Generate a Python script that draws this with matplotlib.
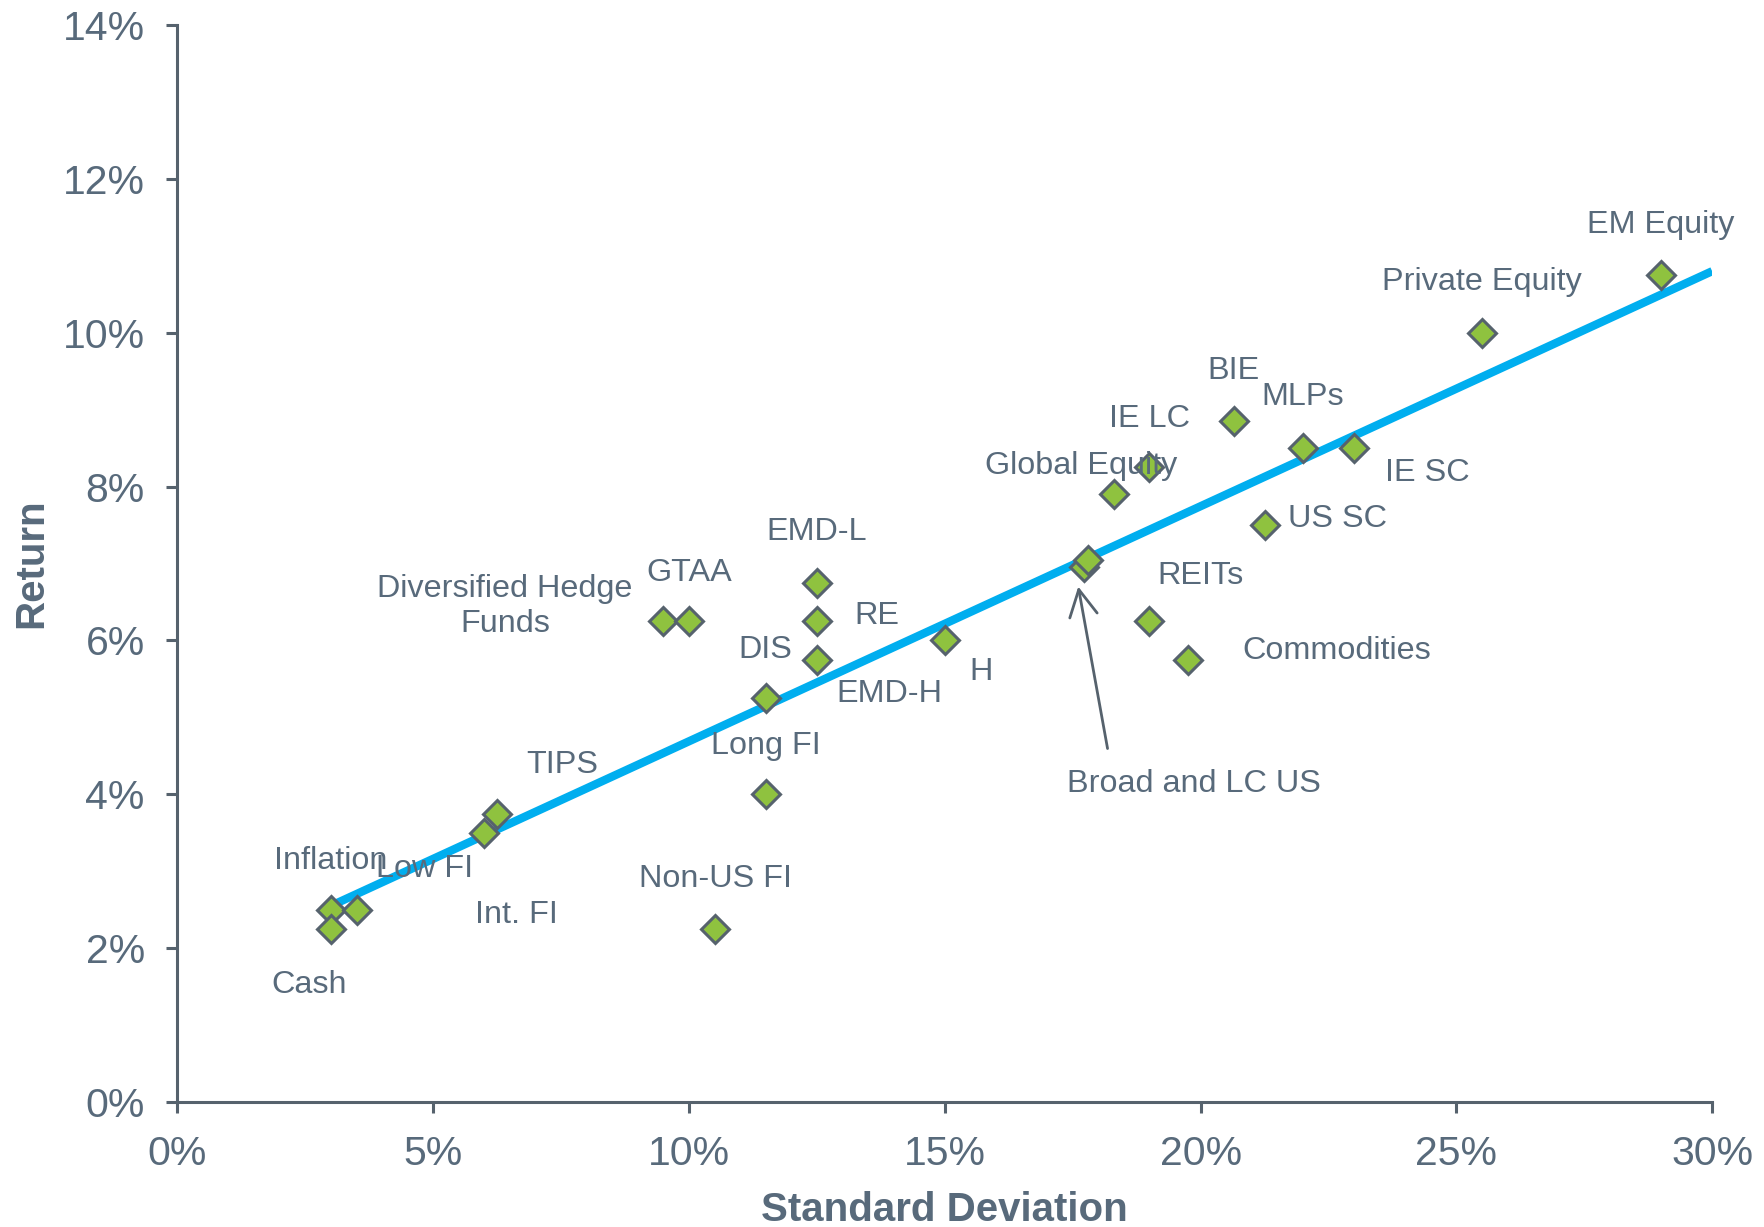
import matplotlib
matplotlib.use("Agg")
import matplotlib.pyplot as plt
from matplotlib.patches import ArrowStyle
from matplotlib.transforms import offset_copy

# Asset classes: volatility (standard deviation, %) and expected return (%)
assets = [
    "Inflation", "Cash", "Low FI", "Int. FI", "TIPS", "Non-US FI",
    "Long FI", "DIS", "EMD-H", "RE", "EMD-L", "Diversified Hedge\nFunds",
    "GTAA", "H", "Broad and LC US", "Broad and LC US", "Global Equity",
    "IE LC", "BIE", "MLPs", "IE SC", "US SC", "REITs", "Commodities",
    "Private Equity", "EM Equity",
]
std_dev = [3.0, 3.0, 3.5, 6.0, 6.25, 10.5,
           11.5, 11.5, 12.5, 12.5, 12.5, 9.5,
           10.0, 15.0, 17.72, 17.8, 18.3,
           19.0, 20.65, 22.0, 23.0, 21.25, 19.0, 19.75,
           25.5, 29.0]
returns = [2.5, 2.25, 2.5, 3.5, 3.75, 2.25,
           4.0, 5.25, 5.75, 6.25, 6.75, 6.25,
           6.25, 6.0, 6.96, 7.04, 7.9,
           8.25, 8.85, 8.5, 8.5, 7.5, 6.25, 5.75,
           10.0, 10.75]

# Trend line end points
trend_sd = [3.0, 30.0]
trend_ret = [2.55, 10.8]

x_ticks = [0, 5, 10, 15, 20, 25, 30]
y_ticks = [0, 2, 4, 6, 8, 10, 12, 14]

# Label placement, offset in points from each marker (None = labelled separately)
label_offsets = [
    (0, 35), (-16, -40.5), (49, 29), (23, -59), (47, 35), (1, 36),
    (0, 35), (0, 35), (52, -25), (43, 4), (0, 36.5), (-114, 10.5),
    (0, 35), (26, -23), None, None, (-23, 20),
    (0, 35), (0, 36), (0, 36.5), (53, -18), (17, 4), (36.5, 32.4), (107, 6.5),
    (0, 36.5), (0, 36),
]

TEXT = "#586a7b"
EDGE = "#56626d"
FILL = "#8fc23f"
LINE = "#00aeef"
LABEL_SIZE = 23.3

plt.rcParams["font.family"] = ["Liberation Sans", "DejaVu Sans"]

fig = plt.figure(figsize=(17.64, 12.27), dpi=100)
ax = fig.add_axes([0.1006, 0.1019, 0.8700, 0.8777])

ax.plot(trend_sd, trend_ret, color=LINE, lw=6, solid_capstyle="butt", zorder=2)
ax.plot(std_dev, returns, linestyle="none", marker="D", markersize=14.5,
        markerfacecolor=FILL, markeredgecolor=EDGE, markeredgewidth=2.2, zorder=3)

for name, sd, r, off in zip(assets, std_dev, returns, label_offsets):
    if off is None:
        continue
    ha = "left" if name == "US SC" else "center"
    ax.annotate(name, xy=(sd, r), xytext=off, textcoords="offset points",
                ha=ha, va="center", fontsize=LABEL_SIZE, color=TEXT,
                linespacing=1.2, zorder=4)

# Broad and LC US: label below, with an open arrow pointing up at the markers
broad_i = assets.index("Broad and LC US")
bx, by = std_dev[broad_i], returns[broad_i]
tip_tr = offset_copy(ax.transData, fig=fig, x=-4.1, y=-14.4, units="points")
tail_tr = offset_copy(ax.transData, fig=fig, x=17, y=-131, units="points")
ax.annotate("", xy=(bx, by), xycoords=tip_tr,
            xytext=(bx, by), textcoords=tail_tr,
            arrowprops=dict(arrowstyle=ArrowStyle("->", head_length=19, head_width=10),
                            mutation_scale=1, color=EDGE, lw=2.0,
                            shrinkA=0, shrinkB=0),
            zorder=4)
ax.annotate("Broad and LC US", xy=(bx, by), xytext=(79, -156.5),
            textcoords="offset points", ha="center", va="center",
            fontsize=LABEL_SIZE, color=TEXT, zorder=4)

ax.set_xlim(0, 30)
ax.set_ylim(0, 14)
ax.set_xticks(x_ticks)
ax.set_yticks(y_ticks)
ax.set_xticklabels([f"{t}%" for t in x_ticks])
ax.set_yticklabels([f"{t}%" for t in y_ticks])

for side in ("top", "right"):
    ax.spines[side].set_visible(False)
for side in ("left", "bottom"):
    ax.spines[side].set_color(EDGE)
    ax.spines[side].set_linewidth(2.2)

ax.tick_params(axis="both", direction="out", length=8, width=2.2,
               color=EDGE, labelcolor=TEXT, labelsize=29.5)
ax.tick_params(axis="y", pad=15.5)
ax.tick_params(axis="x", pad=16)

ax.set_xlabel("Standard Deviation", fontsize=29, fontweight="bold", color=TEXT,
              labelpad=13)
ax.set_ylabel("Return", fontsize=29, fontweight="bold", color=TEXT, labelpad=9)

fig.savefig("out.png", dpi=100, facecolor="white")
